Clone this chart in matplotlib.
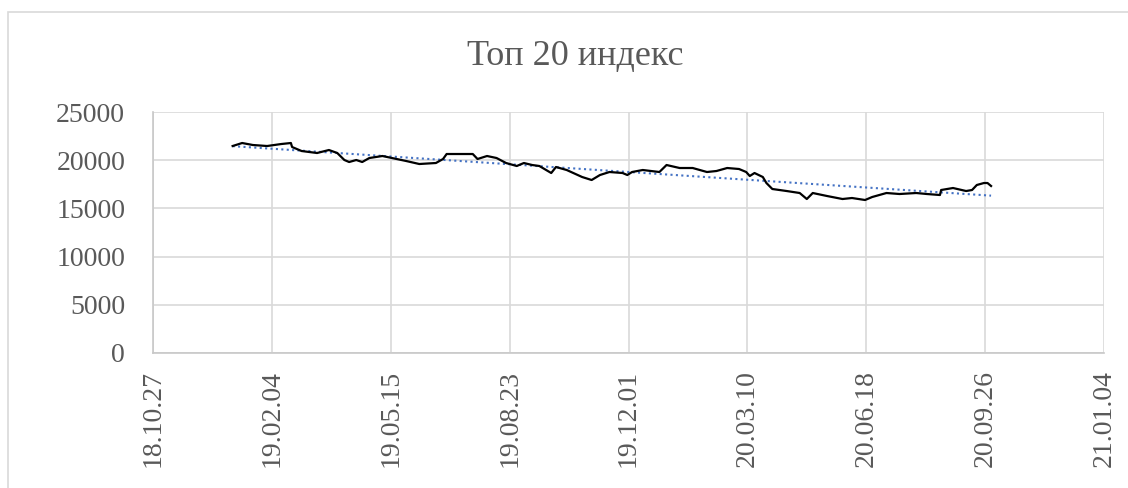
import numpy as np
import pandas as pd
import matplotlib
matplotlib.use("Agg")
import matplotlib.pyplot as plt
import matplotlib.dates as mdates
from matplotlib.patches import Rectangle

# ── Data ──────────────────────────────────────────────────────────────────────
TITLE = "Топ 20 индекс"

dates = [
    "2019-01-02", "2019-01-10", "2019-01-19", "2019-01-31", "2019-02-12",
    "2019-02-20", "2019-02-21", "2019-03-01", "2019-03-14", "2019-03-24",
    "2019-03-31", "2019-04-06", "2019-04-10", "2019-04-16", "2019-04-21",
    "2019-04-27", "2019-05-08", "2019-05-16", "2019-05-28", "2019-06-08",
    "2019-06-22", "2019-06-28", "2019-07-01", "2019-07-06", "2019-07-23",
    "2019-07-27", "2019-08-04", "2019-08-12", "2019-08-20", "2019-08-29",
    "2019-09-04", "2019-09-11", "2019-09-17", "2019-09-27", "2019-10-01",
    "2019-10-10", "2019-10-23", "2019-10-31", "2019-11-07", "2019-11-15",
    "2019-11-26", "2019-11-30", "2019-12-04", "2019-12-13", "2019-12-27",
    "2020-01-02", "2020-01-13", "2020-01-24", "2020-02-05", "2020-02-13",
    "2020-02-22", "2020-03-03", "2020-03-09", "2020-03-12", "2020-03-16",
    "2020-03-23", "2020-03-26", "2020-03-31", "2020-04-12", "2020-04-23",
    "2020-04-29", "2020-05-04", "2020-05-16", "2020-05-29", "2020-06-06",
    "2020-06-17", "2020-06-23", "2020-07-05", "2020-07-16", "2020-07-30",
    "2020-08-08", "2020-08-19", "2020-08-20", "2020-08-30", "2020-09-10",
    "2020-09-15", "2020-09-19", "2020-09-25", "2020-09-28", "2020-10-01",
]

index_values = [
    21472, 21783, 21576, 21472, 21680,
    21783, 21368, 20953, 20746, 21057,
    20746, 20020, 19812, 20020, 19812,
    20227, 20435, 20227, 19916, 19605,
    19709, 20124, 20642, 20642, 20642,
    20124, 20435, 20227, 19709, 19398,
    19709, 19501, 19398, 18671, 19294,
    18983, 18256, 17945, 18464, 18775,
    18671, 18464, 18775, 18983, 18775,
    19501, 19190, 19190, 18775, 18879,
    19190, 19086, 18775, 18360, 18671,
    18256, 17634, 17012, 16804, 16597,
    15974, 16597, 16286, 15974, 16078,
    15871, 16182, 16597, 16493, 16597,
    16493, 16389, 16908, 17115, 16804,
    16908, 17427, 17634, 17634, 17323,
]

x_start = "2018-10-27"
x_end = "2021-01-04"
tick_step_days = 100
y_ticks = [0, 5000, 10000, 15000, 20000, 25000]

# ── Figure ────────────────────────────────────────────────────────────────────
TEXT = "#595959"
GRID = "#D9D9D9"
plt.rcParams["font.family"] = ["Liberation Serif", "DejaVu Serif"]

fig = plt.figure(figsize=(11.28, 4.88), dpi=100)
fig.patches.append(Rectangle((8 / 1128, -0.1), 1.2, (488 - 12) / 488 + 0.1,
                             transform=fig.transFigure, fill=False,
                             edgecolor=GRID, linewidth=1.2))

ax = fig.add_axes([153 / 1128, (488 - 353) / 488, 951 / 1128, 241 / 488])

x = pd.to_datetime(dates)
y = np.array(index_values, dtype=float)
ax.plot(x, y, color="black", linewidth=1.6, zorder=3)

# linear trend line
xn = mdates.date2num(x)
k, b = np.polyfit(xn, y, 1)
ax.plot(x[[0, -1]], k * xn[[0, -1]] + b, color="#4472C4",
        linestyle=(0, (1, 1.6)), linewidth=1.5, zorder=2)

x0 = pd.Timestamp(x_start)
x1 = pd.Timestamp(x_end)
ax.set_xlim(x0, x1)
ax.set_xticks(pd.date_range(x0, x1, freq=f"{tick_step_days}D"))
ax.xaxis.set_major_formatter(mdates.DateFormatter("%y.%m.%d"))
ax.set_ylim(0, 25000)
ax.set_yticks(y_ticks)

ax.grid(True, color=GRID, linewidth=1.2)
ax.set_axisbelow(True)
for side in ["top", "right"]:
    ax.spines[side].set_visible(False)
for side in ["left", "bottom"]:
    ax.spines[side].set_color("#C8C8C8")
    ax.spines[side].set_linewidth(1.2)

ax.tick_params(axis="both", length=0, colors=TEXT, labelsize=20)
ax.tick_params(axis="x", pad=12)
ax.tick_params(axis="y", pad=20)
for lbl in ax.get_xticklabels():
    lbl.set_rotation(90)
    lbl.set_va("top")
    lbl.set_ha("center")

fig.text(575 / 1128, 1 - 57 / 488, TITLE, ha="center", va="center",
         fontsize=26, color=TEXT)

fig.savefig("out.png", dpi=100)
